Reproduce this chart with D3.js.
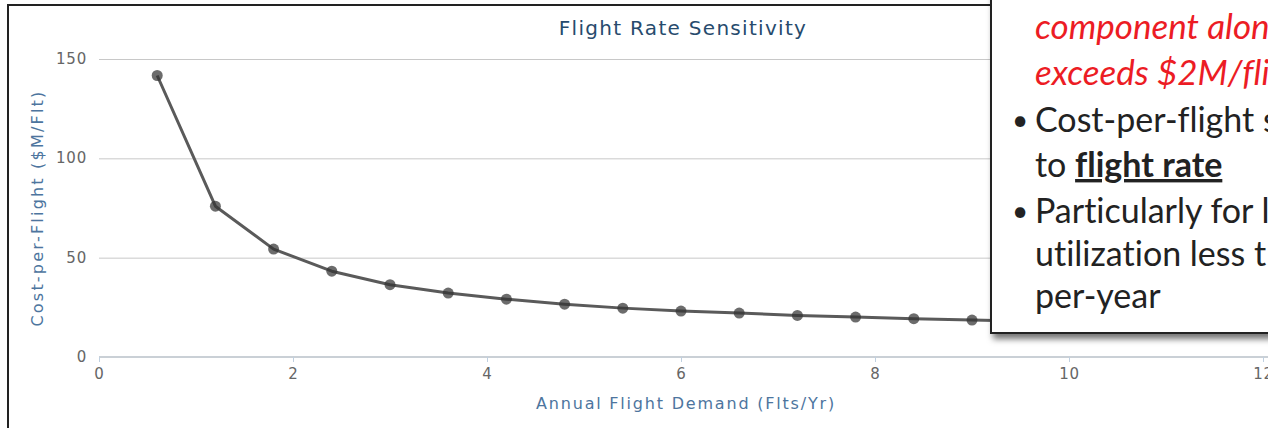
<!DOCTYPE html>
<html>
<head>
<meta charset="utf-8">
<script src="https://cdn.jsdelivr.net/npm/d3@7"></script>
<style>
  html, body { margin: 0; padding: 0; background: #fff; overflow: hidden; }
  svg { display: block; }
</style>
</head>
<body>
<svg id="chart" width="1268" height="428"></svg>
<script>
// ---- data ----
const flightDemand = [0.6, 1.2, 1.8, 2.4, 3.0, 3.6, 4.2, 4.8, 5.4, 6.0, 6.6, 7.2, 7.8, 8.4, 9.0, 9.6, 10.2, 10.8, 11.4, 12.0];
const costPerFlight = [141.7, 75.9, 54.3, 43.2, 36.4, 32.2, 29.1, 26.6, 24.6, 23.1, 22.1, 20.9, 20.1, 19.3, 18.6, 18.0, 17.5, 17.1, 16.7, 16.4];
const xTicks = [0, 2, 4, 6, 8, 10, 12];
const yTicks = [0, 50, 100, 150];
const chartTitle = "Flight Rate Sensitivity";
const xTitle = "Annual Flight Demand (Flts/Yr)";
const yTitle = "Cost-per-Flight ($M/Flt)";
const noteRed = ["component alone", "exceeds $2M/flight"];

const svg = d3.select("#chart");
const defs = svg.append("defs");
const f = defs.append("filter").attr("id", "shadow").attr("x", "-10%").attr("y", "-10%").attr("width", "130%").attr("height", "130%");
f.append("feDropShadow").attr("dx", 3).attr("dy", 5).attr("stdDeviation", 3).attr("flood-color", "#000").attr("flood-opacity", 0.55);

const FONT = "'DejaVu Sans', sans-serif";

const x = d3.scaleLinear().domain([0, 12]).range([99, 1263]);
const y = d3.scaleLinear().domain([0, 150]).range([357, 59]);

// frame
svg.append("rect").attr("x", 8).attr("y", 5).attr("width", 1400).attr("height", 600)
  .attr("fill", "none").attr("stroke", "#222").attr("stroke-width", 2);

// gridlines
const yAxis = d3.axisLeft(y).tickValues(yTicks).tickSize(-(1268 - 99)).tickPadding(12);
const gy = svg.append("g").attr("transform", "translate(99,0)").call(yAxis);
gy.select(".domain").remove();
gy.selectAll(".tick line").attr("stroke", "#c8c8c8").attr("stroke-width", 1)
  .filter(d => d === 0).remove();
gy.selectAll(".tick text").attr("fill", "#666").attr("font-family", FONT).attr("font-size", 15)
  .attr("letter-spacing", 0.8).attr("dy", "0.3em");

// x axis
const xAxis = d3.axisBottom(x).tickValues(xTicks).tickSize(5).tickPadding(6).tickSizeOuter(0);
const gx = svg.append("g").attr("transform", "translate(0,357)").call(xAxis);
gx.select(".domain").attr("stroke", "#b8c0c8").attr("stroke-width", 1.5).attr("d", "M99,0H1268");
gx.selectAll(".tick line").attr("stroke", "#c0d0e0");
gx.selectAll(".tick text").attr("fill", "#666").attr("font-family", FONT).attr("font-size", 15)
  .attr("letter-spacing", 0.8);

// titles
svg.append("text").attr("x", 683).attr("y", 35).attr("text-anchor", "middle")
  .attr("font-family", FONT).attr("font-size", 20).attr("letter-spacing", 1.3)
  .attr("fill", "#274b6d").text(chartTitle);
svg.append("text").attr("x", 686).attr("y", 409).attr("text-anchor", "middle")
  .attr("font-family", FONT).attr("font-size", 16).attr("letter-spacing", 1.8)
  .attr("fill", "#4d759e").text(xTitle);
svg.append("text").attr("transform", "translate(43,208) rotate(-90)").attr("text-anchor", "middle")
  .attr("font-family", FONT).attr("font-size", 16).attr("letter-spacing", 2.2)
  .attr("fill", "#4d759e").text(yTitle);

// series
const pts = flightDemand.map((d, i) => [d, costPerFlight[i]]);
svg.append("path").datum(pts)
  .attr("d", d3.line().x(d => x(d[0])).y(d => y(d[1])))
  .attr("fill", "none").attr("stroke", "#5a5a5a").attr("stroke-width", 3).attr("stroke-linejoin", "round");
svg.append("g").selectAll("circle").data(pts).join("circle")
  .attr("cx", d => x(d[0])).attr("cy", d => y(d[1])).attr("r", 5.5)
  .attr("fill", "#333").attr("fill-opacity", 0.72);

// overlay text box
svg.append("rect").attr("x", 991).attr("y", -100).attr("width", 400).attr("height", 433)
  .attr("fill", "#fff").attr("stroke", "#222").attr("stroke-width", 2).attr("filter", "url(#shadow)");

const BF = "Lato, 'Open Sans', sans-serif";
const BS = 34;
const tb = svg.append("g").attr("font-family", BF).attr("font-size", BS)
  .style("font-variant-ligatures", "none");
tb.append("text").attr("x", 1035).attr("y", 39).attr("fill", "#ec1c24").attr("font-style", "italic").attr("font-size", 35).text(noteRed[0]);
tb.append("text").attr("x", 1035).attr("y", 85).attr("fill", "#ec1c24").attr("font-style", "italic").attr("font-size", 35).text(noteRed[1]);
tb.append("text").attr("x", 1012).attr("y", 130).attr("fill", "#222").attr("font-size", 28).text("•");
tb.append("text").attr("x", 1035).attr("y", 132).attr("fill", "#222").text("Cost-per-flight sensitive");
const l4 = tb.append("text").attr("x", 1035).attr("y", 177).attr("fill", "#222");
l4.append("tspan").text("to ");
l4.append("tspan").attr("font-weight", "bold").attr("text-decoration", "underline").text("flight rate");
tb.append("text").attr("x", 1012).attr("y", 221).attr("fill", "#222").attr("font-size", 28).text("•");
tb.append("text").attr("x", 1035).attr("y", 223).attr("fill", "#222").text("Particularly for low");
tb.append("text").attr("x", 1035).attr("y", 266).attr("fill", "#222").text("utilization less than 10 flights");
tb.append("text").attr("x", 1035).attr("y", 308).attr("fill", "#222").text("per-year");
</script>
</body>
</html>
